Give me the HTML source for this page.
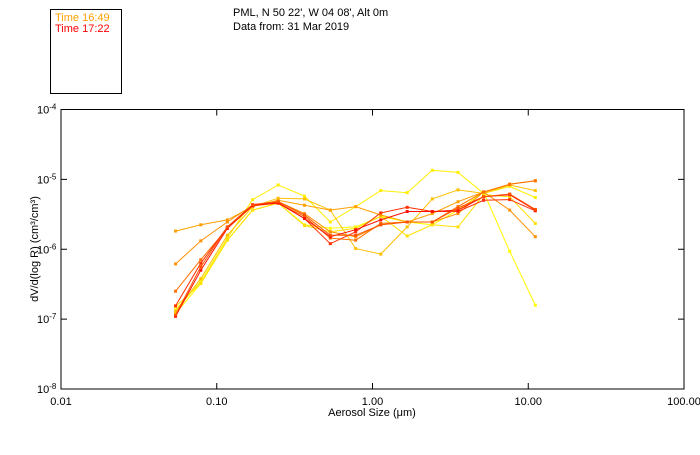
<!DOCTYPE html>
<html><head><meta charset="utf-8"><style>
body{margin:0;background:#fff;}
svg text{font-family:"Liberation Sans",sans-serif;font-size:11px;}
</style></head><body>
<svg id="chart" width="700" height="450" xmlns="http://www.w3.org/2000/svg">
<rect x="50.5" y="9.5" width="71" height="84" fill="none" stroke="#000"/>
<text x="55" y="21" fill="#ffa000">Time 16:49</text>
<text x="55" y="32" fill="#ff0000">Time 17:22</text>
<text x="233" y="16" fill="#000">PML, N 50 22', W 04 08', Alt 0m</text>
<text x="233" y="30" fill="#000">Data from: 31 Mar 2019</text>
<rect x="61" y="109.5" width="623" height="279.5" fill="none" stroke="#000"/>
<g id="axes"></g>
<g id="series"></g>
<text x="372" y="416" text-anchor="middle">Aerosol Size (μm)</text>
<text transform="translate(38,249) rotate(-90)" text-anchor="middle">dV/d(log R) (cm³/cm³)</text>
</svg>
<script>
const sizes=[0.0544,0.079,0.117,0.17,0.248,0.366,0.536,0.78,1.13,1.67,2.42,3.54,5.17,7.6,11.1];
const xTickLabels=["0.01","0.10","1.00","10.00","100.00"];
const xTickValues=[0.01,0.1,1,10,100];
const yTickExps=[-4,-5,-6,-7,-8];
// series values as log10 of dV/dlogR
const s1=[-6.92,-6.49,-5.87,-5.44,-5.34,-5.65,-5.70,-5.68,-5.53,-5.61,-5.65,-5.44,-5.18,-6.03,-6.80];
const s2=[-6.87,-6.46,-5.84,-5.29,-5.08,-5.24,-5.61,-5.39,-5.16,-5.19,-4.87,-4.90,-5.20,-5.10,-5.26];
const s3=[-6.89,-6.42,-5.80,-5.39,-5.27,-5.28,-5.44,-5.99,-6.07,-5.68,-5.28,-5.15,-5.20,-5.08,-5.16];
const s4=[-6.82,-6.49,-5.87,-5.44,-5.34,-5.66,-5.75,-5.70,-5.53,-5.81,-5.65,-5.68,-5.22,-5.25,-5.63];
const s5=[-5.74,-5.65,-5.58,-5.39,-5.30,-5.37,-5.44,-5.39,-5.51,-5.61,-5.49,-5.32,-5.18,-5.07,-5.02];
const s6=[-6.21,-5.88,-5.61,-5.37,-5.32,-5.49,-5.75,-5.82,-5.65,-5.61,-5.61,-5.49,-5.18,-5.44,-5.82];
const s7=[-6.60,-6.15,-5.70,-5.38,-5.34,-5.53,-5.84,-5.87,-5.63,-5.61,-5.61,-5.39,-5.18,-5.07,-5.02];
const s8=[-6.81,-6.20,-5.68,-5.37,-5.33,-5.56,-5.92,-5.75,-5.48,-5.40,-5.46,-5.46,-5.30,-5.29,-5.45];
const s9=[-6.96,-6.30,-5.70,-5.37,-5.34,-5.56,-5.82,-5.72,-5.58,-5.46,-5.46,-5.44,-5.25,-5.22,-5.44];
const s10=[-6.94,-6.25,-5.68,-5.36,-5.32,-5.51,-5.80,-5.80,-5.65,-5.61,-5.61,-5.41,-5.25,-5.21,-5.43];
const seriesList=[s1,s2,s3,s4,s5,s6,s7,s8,s9,s10];
const seriesColors=["#ffff00","#ffee00","#ffc000","#ffe000","#ffa000","#ff9000","#ff7000","#ff3000","#ff1000","#ff5000"];
const NS="http://www.w3.org/2000/svg";
const X0=61,X1=684,Y0=109.5,Y1=389;
function xs(v){return X0+(Math.log10(v)+2)/4*(X1-X0);}
function ys(e){return Y0+(-4-e)/4*(Y1-Y0);}
function mk(t,a,p){const e=document.createElementNS(NS,t);for(const k in a)e.setAttribute(k,a[k]);p.appendChild(e);return e;}
const ax=document.getElementById('axes');
xTickValues.forEach((v,i)=>{
  const x=xs(v);
  const t1=mk('line',{x1:x,x2:x,y1:Y1,y2:Y1-6,stroke:'#000'},ax);
  
  
  const t2=mk('line',{x1:x,x2:x,y1:Y0,y2:Y0+6,stroke:'#000'},ax);
  
  
  const tx=mk('text',{x:x,y:405,'text-anchor':'middle'},ax);
  tx.textContent=xTickLabels[i];
  
  
});
yTickExps.forEach(e=>{
  const y=ys(e);
  const t1=mk('line',{x1:X0,x2:X0+6,y1:y,y2:y,stroke:'#000'},ax);
  
  
  const t2=mk('line',{x1:X1,x2:X1-6,y1:y,y2:y,stroke:'#000'},ax);
  
  
  const tx=mk('text',{x:37,y:y+4},ax);
  tx.innerHTML='10<tspan dy="-4" font-size="8">'+e+'</tspan>';
  
  
});
const sg=document.getElementById('series');
seriesList.forEach((s,i)=>{
  const pts=s.map((e,j)=>xs(sizes[j]).toFixed(1)+','+ys(e).toFixed(1)).join(' ');
  const pl=mk('polyline',{points:pts,fill:'none',stroke:seriesColors[i],'stroke-width':1},sg);
  
  
  s.forEach((e,j)=>{
    const r=mk('rect',{x:xs(sizes[j])-1.5,y:ys(e)-1.5,width:3,height:3,fill:seriesColors[i]},sg);
    
    
  });
});
</script>
</body></html>
